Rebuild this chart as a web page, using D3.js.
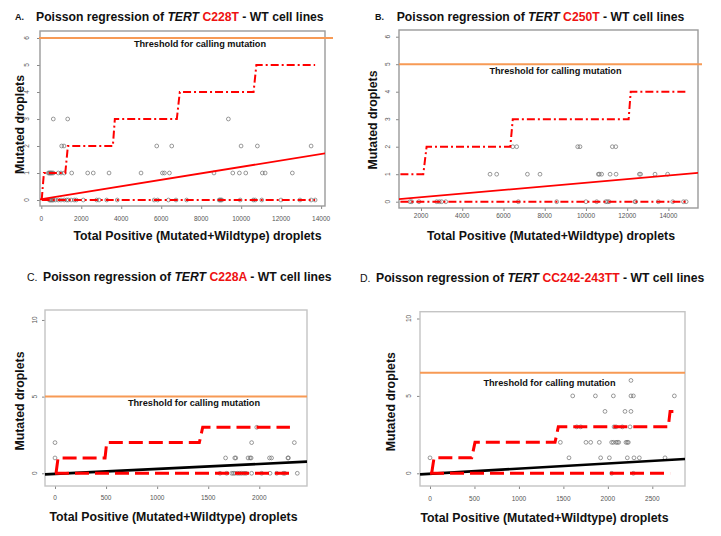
<!DOCTYPE html>
<html><head><meta charset="utf-8">
<script src="https://cdn.jsdelivr.net/npm/d3@7"></script>
<style>
body{margin:0;background:#fff}
svg{display:block}
text{font-family:"Liberation Sans",Arial,sans-serif}
</style>
</head><body>
<svg id="chart" width="721" height="536"></svg>
<script>
// ---------------- DATA ----------------
const panelLetters = ["A.", "B.", "C.", "D."];
const mutations = ["C228T", "C250T", "C228A", "CC242-243TT"];
const thresholds = [6, 5, 5, 6.5];
const thresholdLabel = "Threshold for calling mutation";
const xAxisTitle = "Total Positive (Mutated+Wildtype) droplets";
const yAxisTitle = "Mutated droplets";

const xTicksA = [0, 2000, 4000, 6000, 8000, 10000, 12000, 14000];
const yTicksA = [0, 1, 2, 3, 4, 5, 6];
const xTicksB = [2000, 4000, 6000, 8000, 10000, 12000, 14000];
const yTicksB = [0, 1, 2, 3, 4, 5, 6];
const xTicksC = [0, 500, 1000, 1500, 2000];
const yTicksC = [0, 5, 10];
const xTicksD = [0, 500, 1000, 1500, 2000, 2500];
const yTicksD = [0, 5, 10];

// observed points [total droplets, mutated droplets]
const pointsA = [
  [600,3],[1320,3],[9360,3],
  [1020,2],[1136,2],[5775,2],[6526,2],[9995,2],[10810,2],[13499,2],
  [350,1],[400,1],[430,1],[470,1],[500,1],[550,1],[600,1],[850,1],[985,1],[1150,1],[1520,1],[2320,1],[2600,1],[3390,1],[4990,1],[6060,1],[6160,1],[6410,1],[8640,1],[9580,1],[9910,1],[10230,1],[11060,1],[11200,1],[12560,1],
  [400,0],[450,0],[480,0],[520,0],[560,0],[600,0],[700,0],[850,0],[985,0],[1150,0],[1270,0],[1350,0],[1490,0],[1650,0],[1750,0],[2100,0],[2770,0],[2890,0],[3270,0],[3800,0],[5650,0],[5820,0],[6360,0],[6740,0],[7270,0],[8900,0],[8940,0],[8980,0],[9030,0],[9950,0],[10610,0],[10700,0],[11030,0],[11990,0],[12940,0],[13500,0],[13700,0]
];
const pointsB = [
  [6450,2],[6640,2],[9600,2],[9710,2],[11280,2],[11445,2],
  [5347,1],[5670,1],[7160,1],[7770,1],[10600,1],[10650,1],[10760,1],[11170,1],[11460,1],[12590,1],[12650,1],[13350,1],[13960,1],
  [1465,0],[1545,0],[1900,0],[2760,0],[2890,0],[3000,0],[3200,0],[6720,0],[8580,0],[10000,0],[10520,0],[10960,0],[11040,0],[11120,0],[12380,0],[12410,0],[13510,0],[14210,0],[14730,0],[14860,0]
];
const pointsC = [
  [1975,3],
  [0,2],[1925,2],[2343,2],
  [0,1],[1670,1],[1760,1],[1770,1],[1890,1],[1910,1],[1920,1],[2100,1],[2120,1],[2280,1],[2285,1],
  [1615,0],[1680,0],[1730,0],[1745,0],[1760,0],[1785,0],[1805,0],[1826,0],[1850,0],[1870,0],[1925,0],[2023,0],[2105,0],[2170,0],[2235,0],[2250,0],[2372,0]
];
const pointsD = [
  [2260,6],
  [1605,5],[1860,5],[2062,5],[2260,5],[2287,5],[2748,5],
  [1968,4],[2193,4],[2260,4],
  [1650,3],[1695,3],[2070,3],[2092,3],[2163,3],[2250,3],
  [1466,2],[1754,2],[1807,2],[1904,2],[2043,2],[2062,2],[2092,2],[2107,2],[2122,2],[2204,2],[2219,2],[2230,2],
  [0,1],[1563,1],[1919,1],[2017,1],[2219,1],[2294,1],[2354,1],[2643,1],
  [2043,0],[2287,0]
];

// upper / lower prediction bounds (step lines)
const upperA_x = [20, 130, 1200, 1330, 3580, 3680, 6780, 6930, 10620, 10760, 13700];
const upperA_y = [0, 1, 1, 2, 2, 3, 3, 4, 4, 5, 5];
const lowerA_x = [20, 13700];
const lowerA_y = [0, 0];
const upperB_x = [1000, 2110, 2270, 6330, 6450, 12070, 12170, 14860];
const upperB_y = [1, 1, 2, 2, 3, 3, 4, 4];
const lowerB_x = [1000, 14860];
const lowerB_y = [0, 0];
const upperC_x = [10, 30, 490, 506, 1413, 1446, 2300];
const upperC_y = [0, 1, 1, 2, 2, 3, 3];
const lowerC_x = [0, 2340];
const lowerC_y = [0, 0];
const upperD_x = [19, 45, 469, 506, 1406, 1443, 2680, 2700, 2737];
const upperD_y = [0, 1, 1, 2, 2, 3, 3, 4, 4];
const lowerD_x = [0, 2700];
const lowerD_y = [0, 0];

// fitted regression lines (end points)
const fitA_x = [-65, 14200];   const fitA_y = [0.02, 1.73];
const fitB_x = [932, 15434];   const fitB_y = [0.09, 1.05];
const fitC_x = [-98, 2467];    const fitC_y = [-0.07, 0.76];
const fitD_x = [-112, 2868];   const fitD_y = [-0.07, 0.925];

// ---------------- LAYOUT ----------------
const panels = [
  { box:[40,31,325,206], xd:[-65,14194], yd:[-0.222,6.259], xt:xTicksA, yt:yTicksA, pts:pointsA,
    up:[upperA_x,upperA_y], lo:[lowerA_x,lowerA_y], fit:[fitA_x,fitA_y], thrX:[39,333], thrLab:[200,47],
    dash:"8,3,2,3", bw:2, fitCol:"#ff0000", fitW:1.8, boxCol:"#9a9a9a",
    letter:[15,20,9,"bold"], title:[36,21], yTitle:[24,124.5], xTitle:[197.5,240], yLabX:27, xLabY:219 },
  { box:[399,30,698,208], xd:[932,15434], yd:[-0.229,6.244], xt:xTicksB, yt:yTicksB, pts:pointsB,
    up:[upperB_x,upperB_y], lo:[lowerB_x,lowerB_y], fit:[fitB_x,fitB_y], thrX:[399,702], thrLab:[555.5,74],
    dash:"8,3,2,3", bw:2, fitCol:"#ff0000", fitW:1.8, boxCol:"#9a9a9a",
    letter:[375,19.5,9,"bold"], title:[396.7,21], yTitle:[377,120], xTitle:[551,240], yLabX:388, xLabY:216 },
  { box:[45,310,307,486], xd:[-97.9,2467], yd:[-0.83,10.65], xt:xTicksC, yt:yTicksC, pts:pointsC,
    up:[upperC_x,upperC_y], lo:[lowerC_x,lowerC_y], fit:[fitC_x,fitC_y], thrX:[45,307], thrLab:[194,406],
    dash:"14,6", bw:3, fitCol:"#000000", fitW:2.6, boxCol:"#c4c4c4",
    letter:[27,280.7,10.5,"normal"], title:[43,280.7], yTitle:[23.5,401], xTitle:[173.5,521], yLabX:35, xLabY:497.7 },
  { box:[420,311.7,685,486], xd:[-112.5,2867.7], yd:[-0.82,10.44], xt:xTicksD, yt:yTicksD, pts:pointsD,
    up:[upperD_x,upperD_y], lo:[lowerD_x,lowerD_y], fit:[fitD_x,fitD_y], thrX:[420,685], thrLab:[549.5,386],
    dash:"14,6", bw:3, fitCol:"#000000", fitW:2.6, boxCol:"#c4c4c4",
    letter:[360,281.7,10.5,"normal"], title:[376,281.7], yTitle:[395,401.7], xTitle:[544.5,522], yLabX:409, xLabY:498.3 }
];

const svg = d3.select("#chart");
const defs = svg.append("defs");

panels.forEach((p, i) => {
  const [bx0, by0, bx1, by1] = p.box;
  const x = d3.scaleLinear().domain(p.xd).range([bx0, bx1]);
  const y = d3.scaleLinear().domain(p.yd).range([by1, by0]);
  const g = svg.append("g");

  defs.append("clipPath").attr("id", "clip" + i)
    .append("rect").attr("x", bx0).attr("y", by0).attr("width", bx1 - bx0).attr("height", by1 - by0);

  // title
  g.append("text").attr("x", p.letter[0]).attr("y", p.letter[1])
    .attr("font-size", p.letter[2]).attr("font-weight", p.letter[3]).attr("fill", "#111")
    .text(panelLetters[i]);
  const t = g.append("text").attr("x", p.title[0]).attr("y", p.title[1])
    .attr("font-size", 12.2).attr("font-weight", "bold").attr("fill", "#111");
  t.append("tspan").text("Poisson regression of ");
  t.append("tspan").attr("font-style", "italic").text("TERT");
  t.append("tspan").text(" ");
  t.append("tspan").attr("fill", "#ee1111").text(mutations[i]);
  t.append("tspan").text(" - WT cell lines");

  // axes (R-style: ticks outside box, small rotated labels)
  const ax = g.append("g").attr("transform", `translate(0,${by1})`)
    .call(d3.axisBottom(x).tickValues(p.xt).tickSize(3).tickFormat(d3.format("d")));
  ax.select(".domain").remove();
  ax.selectAll("line").attr("stroke", "#888");
  ax.selectAll("text").remove();
  g.append("g").selectAll("text").data(p.xt).join("text")
    .attr("x", d => x(d)).attr("y", p.xLabY).attr("dy", "0.35em")
    .attr("text-anchor", "middle").attr("font-size", 6.5).attr("fill", "#555").text(d => d);

  const ay = g.append("g").attr("transform", `translate(${bx0},0)`)
    .call(d3.axisLeft(y).tickValues(p.yt).tickSize(3));
  ay.select(".domain").remove();
  ay.selectAll("line").attr("stroke", "#888");
  ay.selectAll("text").remove();
  g.append("g").selectAll("text").data(p.yt).join("text")
    .attr("transform", d => `translate(${p.yLabX},${y(d)}) rotate(-90)`)
    .attr("dy", "0.35em").attr("text-anchor", "middle")
    .attr("font-size", 6.5).attr("fill", "#555").text(d => d);

  // box
  g.append("rect").attr("x", bx0).attr("y", by0).attr("width", bx1 - bx0).attr("height", by1 - by0)
    .attr("fill", "none").attr("stroke", p.boxCol).attr("stroke-width", 1.4);

  // threshold
  g.append("line").attr("x1", p.thrX[0]).attr("x2", p.thrX[1])
    .attr("y1", y(thresholds[i])).attr("y2", y(thresholds[i]))
    .attr("stroke", "#f79a55").attr("stroke-width", 2);
  g.append("text").attr("x", p.thrLab[0]).attr("y", p.thrLab[1]).attr("text-anchor", "middle")
    .attr("font-size", 9.2).attr("font-weight", "bold").attr("fill", "#111").text(thresholdLabel);

  // points
  g.append("g").selectAll("circle").data(p.pts).join("circle")
    .attr("cx", d => x(d[0])).attr("cy", d => y(d[1])).attr("r", 1.9)
    .attr("fill", "none").attr("stroke", "#6f6f6f").attr("stroke-width", 0.7);

  const line = d3.line().x(d => x(d[0])).y(d => y(d[1]));
  const zip = (a) => a[0].map((v, k) => [v, a[1][k]]);
  const cg = g.append("g").attr("clip-path", `url(#clip${i})`);

  // fit line
  cg.append("path").attr("d", line(zip(p.fit))).attr("fill", "none")
    .attr("stroke", p.fitCol).attr("stroke-width", p.fitW);
  // bounds
  [p.up, p.lo].forEach(b => {
    cg.append("path").attr("d", line(zip(b))).attr("fill", "none")
      .attr("stroke", "#ff0000").attr("stroke-width", p.bw).attr("stroke-dasharray", p.dash);
  });

  // axis titles
  g.append("text").attr("x", p.xTitle[0]).attr("y", p.xTitle[1]).attr("text-anchor", "middle")
    .attr("font-size", 12.3).attr("font-weight", "bold").attr("fill", "#111").text(xAxisTitle);
  g.append("text").attr("transform", `translate(${p.yTitle[0]},${p.yTitle[1]}) rotate(-90)`)
    .attr("text-anchor", "middle").attr("font-size", 12.3).attr("font-weight", "bold")
    .attr("fill", "#111").text(yAxisTitle);
});
</script>
</body></html>
